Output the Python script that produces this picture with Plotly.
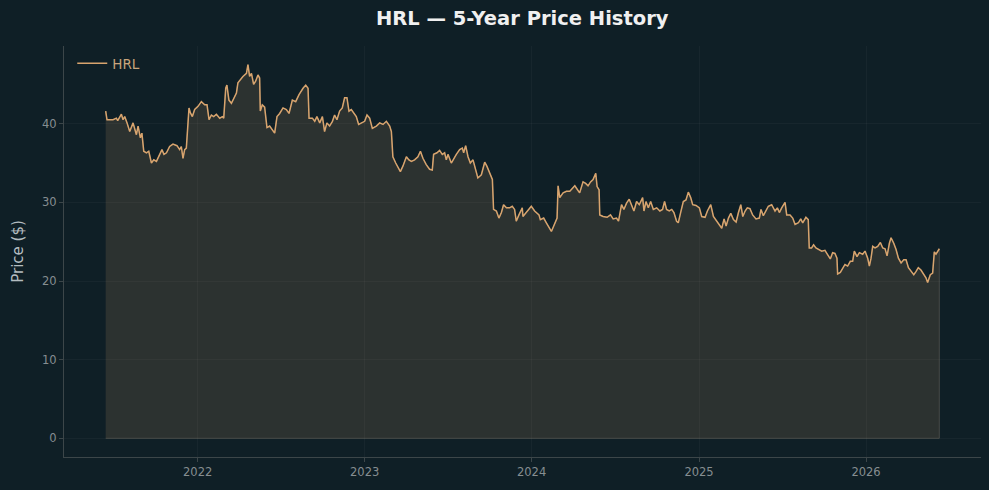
import pandas as pd
import plotly.graph_objects as go

# Decimal-year dates and closing prices
dec_years = [
    2021.449, 2021.457, 2021.493, 2021.513, 2021.521, 2021.543, 2021.553, 2021.563, 2021.577, 2021.593,
    2021.613, 2021.633, 2021.643, 2021.657, 2021.666, 2021.677, 2021.693, 2021.707, 2021.723, 2021.737,
    2021.753, 2021.772, 2021.786, 2021.798, 2021.813, 2021.832, 2021.852, 2021.876, 2021.892, 2021.902,
    2021.912, 2021.922, 2021.932, 2021.948, 2021.956, 2021.968, 2021.982, 2022.002, 2022.022, 2022.042,
    2022.056, 2022.068, 2022.082, 2022.096, 2022.112, 2022.132, 2022.148, 2022.156, 2022.168, 2022.175,
    2022.187, 2022.202, 2022.216, 2022.232, 2022.241, 2022.262, 2022.271, 2022.292, 2022.301, 2022.311,
    2022.322, 2022.335, 2022.347, 2022.361, 2022.371, 2022.375, 2022.387, 2022.401, 2022.415, 2022.431,
    2022.451, 2022.461, 2022.475, 2022.491, 2022.511, 2022.531, 2022.547, 2022.567, 2022.587, 2022.607,
    2022.631, 2022.647, 2022.661, 2022.667, 2022.687, 2022.701, 2022.714, 2022.731, 2022.747, 2022.760,
    2022.774, 2022.790, 2022.807, 2022.820, 2022.834, 2022.850, 2022.866, 2022.880, 2022.894, 2022.906,
    2022.920, 2022.934, 2022.950, 2022.964, 2022.980, 2023.000, 2023.014, 2023.030, 2023.046, 2023.070,
    2023.090, 2023.110, 2023.130, 2023.150, 2023.160, 2023.169, 2023.186, 2023.199, 2023.214, 2023.229,
    2023.250, 2023.265, 2023.280, 2023.299, 2023.319, 2023.334, 2023.349, 2023.369, 2023.389, 2023.405,
    2023.413, 2023.433, 2023.449, 2023.465, 2023.479, 2023.489, 2023.499, 2023.519, 2023.533, 2023.549,
    2023.569, 2023.585, 2023.593, 2023.605, 2023.619, 2023.633, 2023.649, 2023.665, 2023.678, 2023.699,
    2023.719, 2023.732, 2023.749, 2023.765, 2023.772, 2023.789, 2023.804, 2023.819, 2023.832, 2023.849,
    2023.868, 2023.884, 2023.898, 2023.908, 2023.924, 2023.944, 2023.948, 2023.968, 2023.998, 2024.018,
    2024.044, 2024.052, 2024.072, 2024.088, 2024.104, 2024.118, 2024.132, 2024.144, 2024.152, 2024.158,
    2024.168, 2024.188, 2024.208, 2024.228, 2024.244, 2024.258, 2024.271, 2024.287, 2024.307, 2024.323,
    2024.337, 2024.352, 2024.367, 2024.383, 2024.391, 2024.403, 2024.407, 2024.427, 2024.451, 2024.471,
    2024.487, 2024.507, 2024.519, 2024.537, 2024.551, 2024.567, 2024.583, 2024.597, 2024.611, 2024.627,
    2024.643, 2024.663, 2024.671, 2024.683, 2024.697, 2024.711, 2024.727, 2024.747, 2024.766, 2024.782,
    2024.794, 2024.806, 2024.822, 2024.837, 2024.850, 2024.866, 2024.876, 2024.890, 2024.906, 2024.922,
    2024.936, 2024.950, 2024.962, 2024.982, 2025.002, 2025.016, 2025.036, 2025.050, 2025.070, 2025.086,
    2025.106, 2025.122, 2025.136, 2025.150, 2025.162, 2025.176, 2025.190, 2025.206, 2025.222, 2025.236,
    2025.250, 2025.262, 2025.276, 2025.289, 2025.305, 2025.321, 2025.341, 2025.361, 2025.371, 2025.385,
    2025.401, 2025.415, 2025.435, 2025.455, 2025.469, 2025.481, 2025.495, 2025.515, 2025.525, 2025.545,
    2025.561, 2025.575, 2025.595, 2025.609, 2025.621, 2025.640, 2025.654, 2025.660, 2025.674, 2025.686,
    2025.700, 2025.714, 2025.735, 2025.754, 2025.771, 2025.786, 2025.800, 2025.814, 2025.826, 2025.830,
    2025.846, 2025.860, 2025.874, 2025.890, 2025.906, 2025.920, 2025.930, 2025.946, 2025.960, 2025.980,
    2025.994, 2026.010, 2026.020, 2026.030, 2026.040, 2026.054, 2026.070, 2026.086, 2026.100, 2026.114,
    2026.126, 2026.140, 2026.150, 2026.166, 2026.180, 2026.194, 2026.210, 2026.226, 2026.240, 2026.254,
    2026.270, 2026.286, 2026.299, 2026.313, 2026.329, 2026.345, 2026.359, 2026.369, 2026.385, 2026.399,
    2026.409, 2026.419, 2026.429, 2026.439,
]

prices = [
    41.6, 40.5, 40.5, 40.7, 40.4, 41.2, 40.5, 40.9, 40.1, 39.0,
    40.1, 38.6, 39.7, 38.2, 38.8, 36.5, 36.3, 36.5, 35.0, 35.4,
    35.2, 36.1, 36.7, 36.1, 36.3, 37.1, 37.4, 37.2, 36.7, 37.1,
    35.6, 36.7, 36.9, 42.0, 41.4, 40.9, 41.8, 42.2, 42.8, 42.4,
    42.4, 40.5, 41.1, 40.9, 41.2, 40.7, 40.9, 40.7, 44.5, 44.9,
    43.0, 42.6, 43.3, 43.9, 45.2, 45.8, 46.0, 46.4, 47.5, 46.0,
    46.4, 45.0, 45.4, 46.2, 45.8, 41.6, 42.4, 42.1, 39.5, 39.7,
    39.0, 38.8, 40.9, 41.3, 42.0, 41.8, 41.3, 43.0, 42.8, 43.7,
    44.5, 44.9, 44.5, 40.7, 40.7, 40.3, 40.9, 40.1, 40.9, 39.0,
    40.1, 39.7, 40.3, 41.1, 40.5, 41.6, 42.0, 43.3, 43.3, 41.6,
    41.8, 41.3, 40.9, 39.9, 40.1, 40.3, 41.1, 40.7, 39.4, 39.7,
    40.1, 39.9, 40.3, 39.7, 39.0, 35.8, 35.0, 34.4, 33.9, 34.6,
    35.8, 35.4, 35.2, 35.4, 35.8, 36.5, 35.6, 34.8, 34.2, 34.1,
    36.1, 36.3, 36.6, 36.1, 36.3, 35.4, 36.1, 35.0, 35.6, 36.1,
    36.7, 36.9, 36.3, 37.2, 35.8, 35.0, 35.4, 34.2, 33.1, 33.5,
    35.1, 34.6, 33.7, 32.9, 29.1, 28.9, 28.0, 28.7, 29.7, 29.3,
    29.3, 29.5, 29.1, 27.6, 28.4, 29.3, 28.2, 28.7, 29.5, 28.9,
    28.4, 27.8, 28.0, 27.4, 26.7, 26.3, 27.0, 27.6, 28.0, 32.1,
    30.6, 31.2, 31.4, 31.4, 31.8, 32.1, 31.7, 31.2, 32.6, 32.4,
    32.1, 32.6, 32.9, 33.7, 32.0, 31.6, 28.4, 28.2, 28.1, 28.4,
    27.9, 28.0, 27.6, 29.7, 29.1, 29.9, 30.4, 29.5, 28.9, 30.1,
    29.7, 30.6, 28.9, 30.1, 29.3, 30.1, 29.1, 29.3, 28.9, 29.1,
    30.1, 29.1, 28.9, 29.1, 28.7, 27.6, 27.4, 28.7, 30.1, 30.3,
    31.3, 30.6, 29.7, 29.6, 29.3, 28.2, 28.1, 28.9, 29.7, 28.2,
    27.6, 27.0, 26.7, 27.9, 27.0, 28.0, 28.6, 27.8, 27.5, 28.7,
    29.7, 28.2, 28.9, 29.3, 29.2, 28.4, 27.9, 28.0, 29.1, 28.3,
    28.9, 29.5, 29.7, 28.9, 29.3, 28.7, 29.3, 30.0, 28.4, 28.4,
    28.0, 27.2, 27.4, 27.9, 27.4, 28.1, 27.8, 24.2, 24.2, 24.6,
    24.2, 24.0, 23.8, 23.9, 23.4, 22.8, 23.6, 23.5, 22.9, 20.9,
    21.1, 21.7, 22.1, 21.9, 22.5, 22.5, 23.8, 23.1, 23.6, 23.4,
    23.8, 22.9, 21.9, 22.9, 24.4, 24.2, 24.4, 24.9, 24.2, 24.1,
    23.2, 24.8, 25.5, 24.8, 24.0, 22.9, 22.3, 22.7, 22.7, 21.7,
    21.2, 20.8, 21.2, 21.7, 21.4, 20.8, 20.4, 19.8, 20.8, 21.0,
    23.7, 23.4, 23.7, 24.1,
]

ticker = "HRL"
title_text = "HRL — 5-Year Price History"
y_title = "Price ($)"
y_ticks = [0, 10, 20, 30, 40]


def to_ts(d):
    yr = int(d)
    frac = d - yr
    start = pd.Timestamp(yr, 1, 1)
    length = (pd.Timestamp(yr + 1, 1, 1) - start).days
    return start + pd.Timedelta(days=frac * length)


dates = [to_ts(d) for d in dec_years]

LINE = "#d8a46e"
BG = "#0f1f26"
TXT = "#868e91"
AXIS = "#3c4649"
GRID = "rgba(255,255,255,0.035)"

fig = go.Figure()

# filled area under the price line (polygon down to zero)
fig.add_trace(go.Scatter(
    x=dates + [dates[-1], dates[0]],
    y=prices + [0, 0],
    fill="toself",
    fillcolor="rgba(216,164,110,0.15)",
    line=dict(color="rgba(120,118,105,0.45)", width=1),
    mode="lines",
    hoverinfo="skip",
    showlegend=False,
))

fig.add_trace(go.Scatter(
    x=dates, y=prices, mode="lines", name=ticker,
    line=dict(color=LINE, width=1.5),
))

span = dates[-1] - dates[0]
xr = [dates[0] - span * 0.05, dates[-1] + span * 0.05]
ymax = max(prices)
yr = [-0.05 * ymax, ymax * 1.05]

fig.update_layout(
    width=989, height=490,
    paper_bgcolor=BG, plot_bgcolor=BG,
    margin=dict(l=64, r=8, t=46, b=33),
    font=dict(family="DejaVu Sans", color=TXT, size=11),
    title=dict(text=f"<b>{title_text}</b>", x=0.528, xanchor="center", y=0.962, yanchor="middle",
               font=dict(size=19.5, color="#f0f0f0", family="DejaVu Sans")),
    legend=dict(x=0.009, y=0.995, xanchor="left", yanchor="top", bgcolor="rgba(0,0,0,0)",
                font=dict(color="#c9a57c", size=13.5), borderwidth=0),
    xaxis=dict(
        range=xr, type="date", dtick="M12", tick0="2022-01-01", tickformat="%Y",
        showline=True, linecolor=AXIS, linewidth=1,
        ticks="outside", ticklen=4, tickcolor=AXIS,
        showgrid=True, gridcolor=GRID, zeroline=False,
        tickfont=dict(color=TXT, size=11.5),
    ),
    yaxis=dict(
        range=yr, tickvals=y_ticks,
        showline=True, linecolor=AXIS, linewidth=1,
        ticks="outside", ticklen=4, tickcolor=AXIS,
        showgrid=True, gridcolor=GRID, zeroline=False,
        tickfont=dict(color=TXT, size=11.5),
        title=dict(text=y_title, font=dict(color="#b4bcc0", size=15), standoff=14),
    ),
)

fig.write_html("out.html")
